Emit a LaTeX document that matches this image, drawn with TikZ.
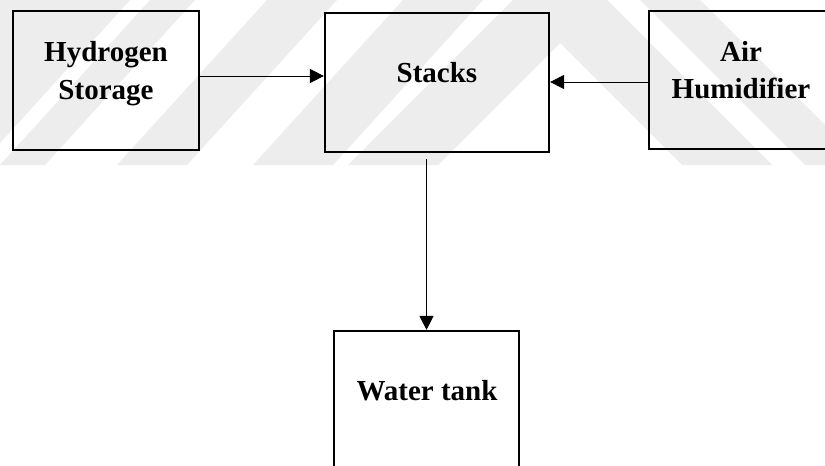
\documentclass[tikz,border=0pt]{standalone}
\usepackage{fontspec}
\setmainfont{Liberation Serif}
\usetikzlibrary{arrows.meta}
\begin{document}
\begin{tikzpicture}[x=1pt,y=-1pt,
  box/.style={draw=black,line width=2.2pt,rectangle,inner sep=0pt},
  lbl/.style={font=\fontsize{29}{37.5}\selectfont\bfseries,align=center,inner sep=0pt,text=black},
  arr/.style={draw=black,line width=1pt,-{Triangle[length=14pt,width=14pt]}},
  wm/.style={fill=black!7,draw=none}]
\path[use as bounding box] (0,0) rectangle (825,466);
\clip (0,0) rectangle (825,466);
\fill[white] (0,0) rectangle (825,466);
% faint watermark stripes
\foreach \b/\w in {-150/130, 0/45, 117/70, 253/80}{
  \fill[wm] (\b,165) -- ({\b+\w},165) -- ({\b+\w+150},0) -- ({\b+150},0) -- cycle;
}
\fill[wm] (348,165) -- (560,-47) -- (772,165) -- (682,165) -- (560,43) -- (438,165) -- cycle;
\fill[wm] (640,0) -- (700,0) -- (865,165) -- (805,165) -- cycle;
% boxes
\node[box,minimum width=186pt,minimum height=139pt] (hyd) at (106,80.5) {};
\node[box,minimum width=224pt,minimum height=139pt] (stk) at (437,82.5) {};
\node[box,minimum width=186pt,minimum height=138pt] (air) at (742,80) {};
\node[box,minimum width=185pt,minimum height=139pt] (wat) at (426.5,400.5) {};
% labels
\node[lbl,anchor=north] (hydT) at (106,41.4) {Hydrogen\\Storage};
\node[lbl,anchor=base] (stkT) at (437,82) {Stacks};
\node[lbl,anchor=north] (airT) at (741,41) {Air\\Humidifier};
\node[lbl,anchor=base] (watT) at (427,400) {Water tank};
% connectors
\draw[arr] ([yshift=4.5pt]hyd.east) -- ([yshift=4.5pt]hyd.east -| stk.west);
\draw[arr] ([yshift=-2pt]air.west) -- ([yshift=-2pt]air.west -| stk.east);
\draw[arr] ([yshift=-6pt]stk.south -| wat.north) -- (wat.north);
\end{tikzpicture}
\end{document}
